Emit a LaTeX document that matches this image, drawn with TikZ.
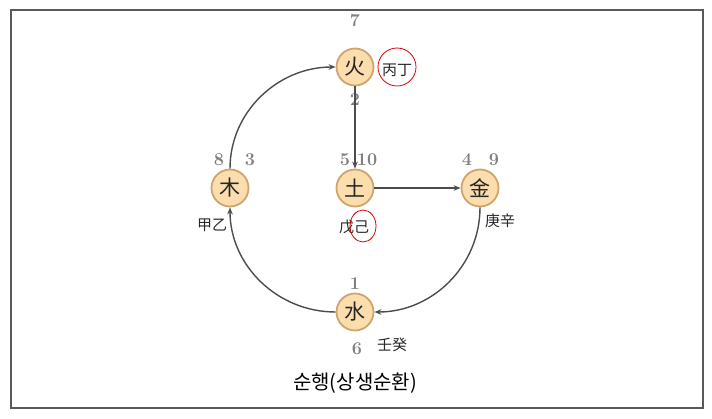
\documentclass[tikz,border=0pt]{standalone}
\usepackage{fontspec}
\newfontfamily\cjk{Noto Sans CJK SC}
\newfontfamily\kor{Noto Sans CJK KR}
\usetikzlibrary{arrows.meta,shapes.geometric}
\definecolor{elemfill}{HTML}{FBDDAE}
\definecolor{elemdraw}{HTML}{CFA56E}
\tikzset{
    elem/.style    = {circle, draw=elemdraw, line width=1.8pt, fill=elemfill, minimum size=37pt,
                      inner sep=0pt, font=\cjk\fontsize{21}{21}\selectfont, text=black!85},
    num/.style     = {inner sep=1pt, text=black!50, font=\fontsize{18}{18}\selectfont\bfseries},
    stem/.style    = {inner sep=1pt, text=black!85, font=\cjk\fontsize{15}{15}\selectfont},
    redring/.style = {draw=red!85!black, line width=0.8pt, inner sep=0pt}
}

\begin{document}
\begin{tikzpicture}[
        x=1pt, y=1pt,
        flow/.style  = {-{Stealth[length=7pt,width=5.5pt]}, line width=1.4pt, draw=black!70},
        frame/.style = {draw=black!65, line width=1.1pt}
    ]
        \useasboundingbox (0,0) rectangle (712,418);
        \draw[frame] (11,10) rectangle (703,408);

        % Five elements
        \node[elem] (fire)  at (355,351) {火};
        \node[elem] (earth) at (355,230) {土};
        \node[elem] (wood)  at (230,230) {木};
        \node[elem] (metal) at (480,230) {金};
        \node[elem] (water) at (355,106) {水};

        % Numbers
        \node[num] (n7)  at (355,397) {7};
        \node[num] (n2)  at (355,318) {2};
        \node[num] (n5)  at (345,258) {5};
        \node[num] (n10) at (367,258) {10};
        \node[num] (n8)  at (219,258) {8};
        \node[num] (n3)  at (250,258) {3};
        \node[num] (n4)  at (467,258) {4};
        \node[num] (n9)  at (494,258) {9};
        \node[num] (n1)  at (355,134) {1};
        \node[num] (n6)  at (357,69)  {6};

        % Stems
        \node[stem] (byeongjeong) at (397,348) {丙丁};
        \node[stem] (mugi)        at (354,191) {戊己};
        \node[stem] (gabeul)      at (212,193) {甲乙};
        \node[stem] (gyeongsin)   at (500,197) {庚辛};
        \node[stem] (imgye)       at (392,73)  {壬癸};

        % Red rings
        \node[redring, circle, minimum size=38pt] (ringfire) at (397,351) {};
        \node[redring, ellipse, minimum width=26pt, minimum height=32pt] (ringearth) at (363,192) {};

        % Flow
        \draw[flow] (fire) -- (earth);
        \draw[flow] (earth) -- (metal);
        \draw[flow] (metal) to[out=-90, in=0] (water);
        \draw[flow] (water) to[out=180, in=-90] (wood);
        \draw[flow] (wood) to[out=90, in=180] (fire);

        % Caption
        \node[font=\kor\fontsize{20}{20}\selectfont] (caption) at (355,35) {순행(상생순환)};
    \end{tikzpicture}
\end{document}
